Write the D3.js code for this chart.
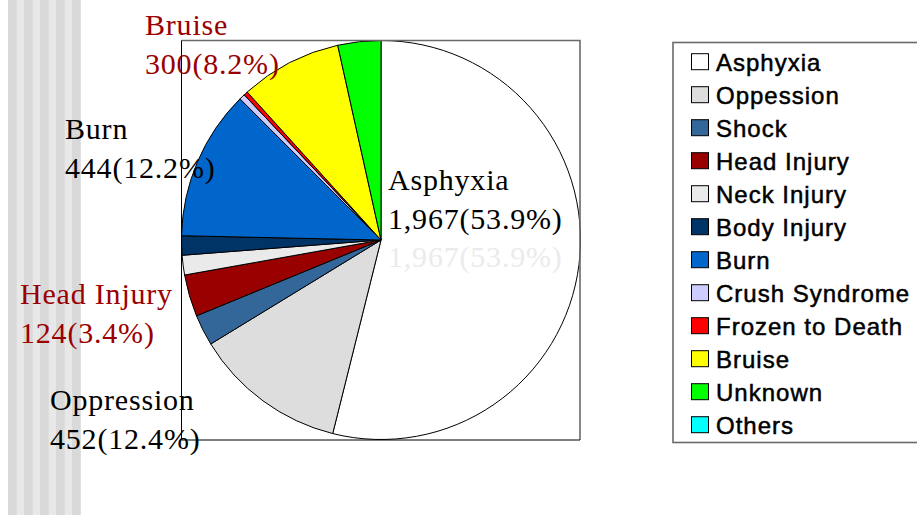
<!DOCTYPE html>
<html>
<head>
<meta charset="utf-8">
<script src="https://cdn.jsdelivr.net/npm/d3@7/dist/d3.min.js"></script>
<style>
  html, body { margin: 0; padding: 0; background: #fff; }
  svg { display: block; }
</style>
</head>
<body>
<svg id="chart" width="917" height="515"></svg>
<script>
// ---- data ----
const categories = ["Asphyxia", "Oppession", "Shock", "Head Injury", "Neck Injury", "Body Injury",
                    "Burn", "Crush Syndrome", "Frozen to Death", "Bruise", "Unknown", "Others"];
const values = [1967, 452, 92, 124, 58, 57, 444, 17, 12, 300, 127, 0];
const colors = ["#ffffff", "#dddddd", "#336699", "#990000", "#eaeaea", "#003366",
                "#0066cc", "#ccccff", "#ff0000", "#ffff00", "#00ff00", "#00ffff"];
const labelledCategories = ["Bruise", "Burn", "Head Injury", "Oppession", "Asphyxia"];
const labelTitles = ["Bruise", "Burn", "Head Injury", "Oppression", "Asphyxia"];

// ---- layout ----
const W = 917, H = 515;
const svg = d3.select("#chart");
const cx = 381, cy = 240, R = 199.5;
const total = d3.sum(values);
const fmt = d3.format(",");
const valueLabel = v => fmt(v) + "(" + (v / total * 100).toFixed(1) + "%)";

// left striped decoration
svg.append("rect").attr("x", 8).attr("y", 0).attr("width", 72.7).attr("height", H)
  .attr("fill", "#e8e8e8");
svg.append("g").selectAll("rect").data(d3.range(8, 81, 16)).join("rect")
  .attr("x", d => d).attr("y", 0).attr("width", 8.7).attr("height", H)
  .attr("fill", "#d9d9d9");

// pie
const pie = d3.pie().sort(null).value(d => d.v);
const arcs = pie(categories.map((c, i) => ({ c, v: values[i], col: colors[i] })));
const arc = d3.arc().innerRadius(0).outerRadius(R);
svg.append("g").attr("transform", `translate(${cx},${cy})`)
  .selectAll("path").data(arcs.filter(a => a.data.v > 0)).join("path")
  .attr("d", arc)
  .attr("fill", d => d.data.col)
  .attr("stroke", "#000").attr("stroke-width", 1).attr("stroke-linejoin", "round");

// data labels
const labelPos = {
  "Bruise":      { x: 145, y: 35,  color: "#9a0000" },
  "Burn":        { x: 65,  y: 139, color: "#000" },
  "Head Injury": { x: 20,  y: 304, color: "#9a0000" },
  "Oppession":   { x: 50,  y: 410, color: "#000" },
  "Asphyxia":    { x: 388, y: 190, color: "#000" }
};
const lg = svg.append("g").attr("font-family", "'Liberation Serif', 'Times New Roman', serif")
  .attr("font-size", 30).attr("letter-spacing", 0.8);
labelledCategories.forEach((c, k) => {
  const i = categories.indexOf(c);
  const p = labelPos[c];
  const t = lg.append("text").attr("x", p.x).attr("y", p.y).attr("fill", p.color);
  t.append("tspan").attr("x", p.x).attr("dy", 0).text(labelTitles[k]);
  t.append("tspan").attr("x", p.x).attr("dy", 38.5).text(valueLabel(values[i]));
  if (c === "Asphyxia") {
    lg.append("text").attr("x", p.x).attr("y", p.y + 77).attr("fill", "#ebebeb")
      .text(valueLabel(values[i]));
  }
});

// plot frame
const bx0 = 181.5, by0 = 40.5, bx1 = 580, by1 = 440;
svg.append("path").attr("d", `M${bx0},${by0}H${bx1}V${by1}`)
  .attr("fill", "none").attr("stroke", "#6a6a6a").attr("stroke-width", 1.6);
svg.append("path").attr("d", `M${bx0},${by0}V${by1}H${bx1}`)
  .attr("fill", "none").attr("stroke", "#000").attr("stroke-width", 1);

// legend
const legX = 673, legY = 42.5, legH = 400;
svg.append("rect").attr("x", legX).attr("y", legY).attr("width", 260).attr("height", legH)
  .attr("fill", "#fff").attr("stroke", "#6a6a6a").attr("stroke-width", 1.6);
const yLeg = d3.scalePoint().domain(categories).range([70.7, 433.7]);
const items = svg.append("g").selectAll("g").data(categories).join("g")
  .attr("transform", d => `translate(0,${yLeg(d)})`);
items.append("rect").attr("x", 691.5).attr("y", -17).attr("width", 17).attr("height", 16)
  .attr("fill", (d, i) => colors[i]).attr("stroke", "#000").attr("stroke-width", 1);
items.append("text").attr("x", 716).attr("y", 0)
  .attr("font-family", "'Liberation Sans', Arial, sans-serif").attr("font-size", 24)
  .attr("letter-spacing", 1)
  .attr("fill", "#000").attr("stroke", "#000").attr("stroke-width", 0.5)
  .text(d => d);
</script>
</body>
</html>
